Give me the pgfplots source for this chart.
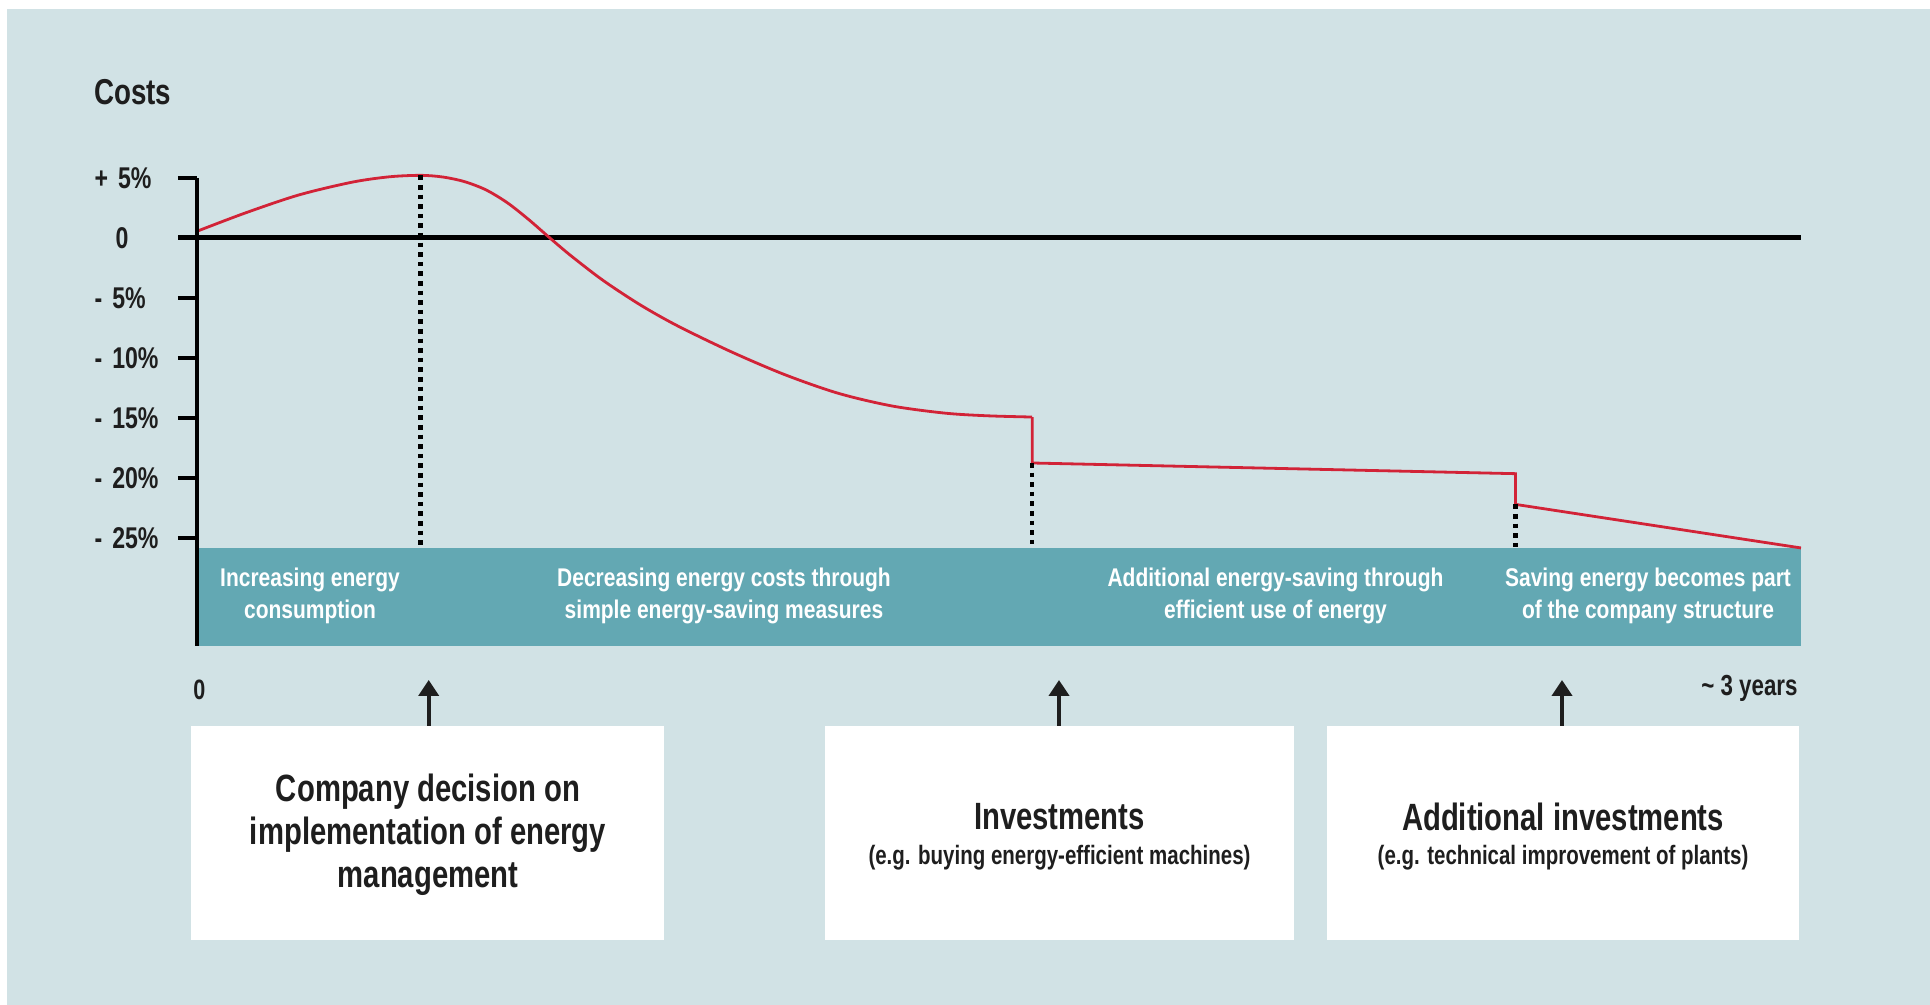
\documentclass[border=0pt]{standalone}
\usepackage{pgfplots}
\pgfplotsset{compat=1.18}
\usepackage{fontspec}
\setmainfont{Liberation Sans}[FakeStretch=0.82]
\newfontfamily\semib{Liberation Sans}[FakeStretch=0.77]
\usetikzlibrary{arrows.meta}
\definecolor{panel}{RGB}{209,226,229}
\definecolor{band}{RGB}{99,168,179}
\definecolor{redline}{RGB}{210,35,55}
\definecolor{ink}{RGB}{30,30,30}
\begin{document}
\begin{tikzpicture}[x=0.5pt,y=0.5pt]
\useasboundingbox (0,0) rectangle (1930,1005);
\fill[white] (0,0) rectangle (1930,1005);
\fill[panel] (7,0) rectangle (1930,996);
\node[anchor=west, font=\semib\bfseries\fontsize{18}{20}\selectfont, text=ink, inner sep=0pt] at (94,913) {Costs};

\begin{axis}[
  at={(98.5pt,179.5pt)}, anchor=south west,
  width=802pt, height=234pt, scale only axis,
  xmin=0, xmax=3, ymin=-34, ymax=5,
  axis x line=none, axis y line=left,
  y axis line style={-, line width=2pt, black},
  ytick={-25,-20,-15,-10,-5,0,5},
  yticklabels={- 25\%, - 20\%, - 15\%, - 10\%, - 5\%, \hspace*{10.5pt}0, + 5\%},
  tick align=outside, major tick length=9.5pt,
  ytick style={line width=2.2pt, black},
  yticklabel style={font=\semib\bfseries\fontsize{15}{16}\selectfont, text=ink, text width=41.5pt, align=left, inner sep=0pt},
  clip=false, axis on top,
]
\fill[band] (axis cs:0,-25.83) rectangle (axis cs:3,-34);
\addplot[black, line width=2.5pt] coordinates {(-0.0355,0) (3,0)};
% cost curve
\addplot[redline, line width=1.4pt, smooth] coordinates {
  (0,0.56) (0.09,2.08) (0.19,3.58) (0.29,4.65) (0.36,5.1) (0.418,5.22)
  (0.46,5.08) (0.50,4.7) (0.54,4.02) (0.58,2.95) (0.62,1.55) (0.66,0)
  (0.70,-1.5) (0.76,-3.55) (0.83,-5.6) (0.90,-7.35) (1.00,-9.5) (1.10,-11.4)
  (1.20,-12.95) (1.30,-14.0) (1.40,-14.6) (1.48,-14.82) (1.562,-14.92)};
\addplot[redline, line width=1.4pt] coordinates {
  (1.562,-14.92) (1.562,-18.75) (2.466,-19.64) (2.466,-22.2) (3,-25.83)};
% dotted markers
\addplot[black, line width=2.3pt, dash pattern=on 2.3pt off 2.5pt] coordinates {(0.418,5.22) (0.418,-25.83)};
\addplot[black, line width=2.3pt, dash pattern=on 2.3pt off 2.5pt] coordinates {(1.562,-18.75) (1.562,-25.83)};
\addplot[black, line width=2.3pt, dash pattern=on 2.3pt off 2.5pt] coordinates {(2.466,-22.2) (2.466,-25.83)};
\end{axis}

% labels in the band
\begin{scope}[every node/.style={align=center, text=white, font=\bfseries\fontsize{12.8}{15.8}\selectfont}]
\node at (310,409) {Increasing energy\\consumption};
\node at (724,409) {Decreasing energy costs through\\simple energy-saving measures};
\node at (1275.5,409) {Additional energy-saving through\\efficient use of energy};
\node at (1648,409) {Saving energy becomes part\\of the company structure};
\end{scope}

% time axis text
\node[anchor=west, inner sep=0pt, text=ink, font=\semib\bfseries\fontsize{14}{15}\selectfont] at (193,315) {0};
\node[anchor=east, inner sep=0pt, text=ink, font=\semib\bfseries\fontsize{14.5}{15}\selectfont] at (1798,317) {\textasciitilde{} 3 years};

% arrows
\foreach \xa in {428.7,1059,1562}
  \draw[ink, line width=2pt, -{Triangle[length=8pt,width=10pt]}] (\xa,279) -- (\xa,325);

% boxes
\fill[white] (191,65) rectangle (664,279);
\fill[white] (825,65) rectangle (1294,279);
\fill[white] (1327,65) rectangle (1799,279);
\begin{scope}[every node/.style={text=ink, align=center}]
\node[font=\semib\bfseries\fontsize{19}{21.5}\selectfont] at (428,170) {Company decision on\\implementation of energy\\management};
\node[font=\semib\bfseries\fontsize{19}{21.5}\selectfont] at (1059.5,188.3) {Investments};
\node[font=\semib\bfseries\fontsize{13.3}{14}\selectfont] at (1059.5,147) {(e.g. buying energy-efficient machines)};
\node[font=\semib\bfseries\fontsize{19}{21.5}\selectfont] at (1563,188.3) {Additional investments};
\node[font=\semib\bfseries\fontsize{13.3}{14}\selectfont] at (1563,147) {(e.g. technical improvement of plants)};
\end{scope}
\end{tikzpicture}
\end{document}
